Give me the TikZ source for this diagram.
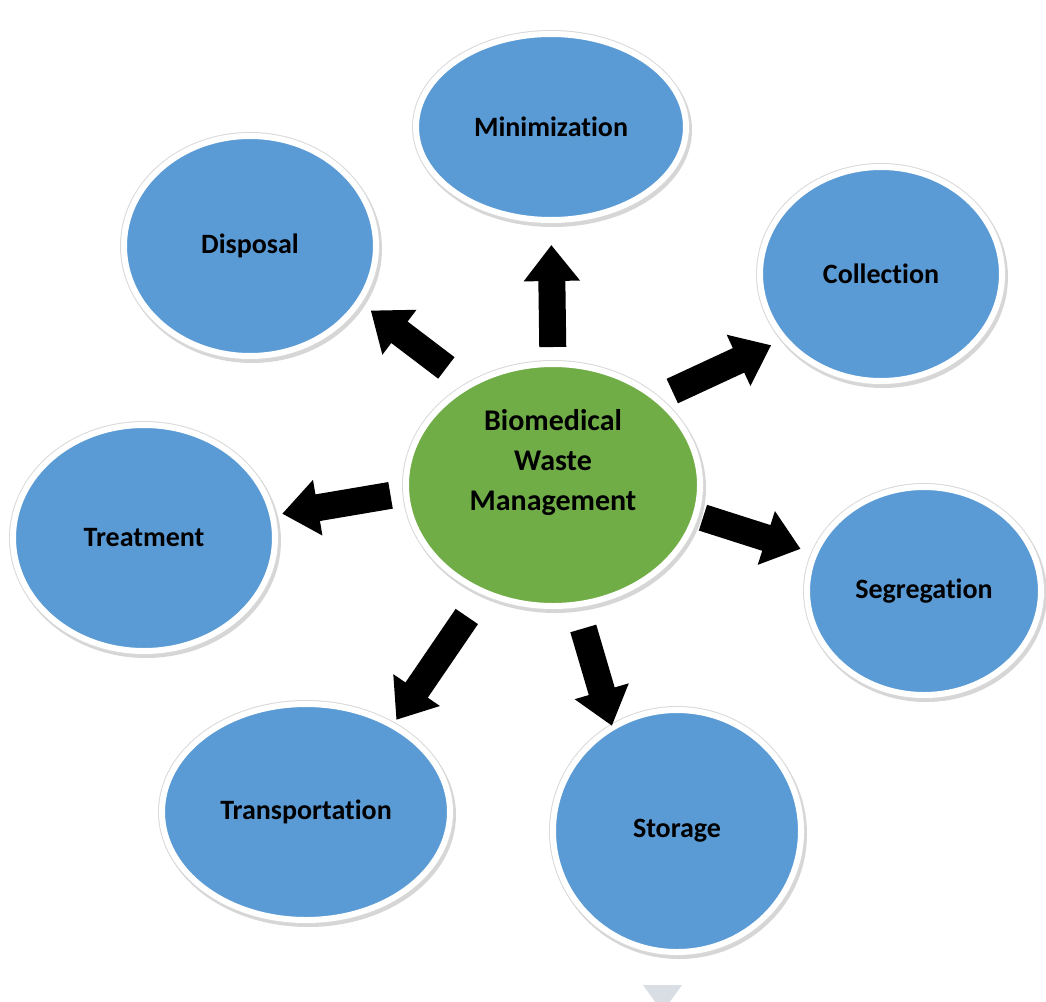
\documentclass[tikz,border=0pt]{standalone}
\usepackage{fontspec}
\setsansfont{Carlito}[Ligatures=NoCommon]
\usetikzlibrary{shapes.geometric, arrows.meta, shadows}
\definecolor{bubbleblue}{HTML}{5B9BD5}
\definecolor{hubgreen}{HTML}{70AD47}
\definecolor{pointergray}{HTML}{D9DDE4}

\begin{document}
\begin{tikzpicture}[x=1pt, y=-1pt,
    bubble/.style={ellipse, fill=bubbleblue, draw=white, line width=6pt,
        inner sep=0pt, outer sep=0pt,
        drop shadow={shadow xshift=2pt, shadow yshift=-3pt, fill=black!40,
            draw=black!40, line width=8pt, opacity=0.4},
        preaction={draw=black!15, line width=8pt},
        font=\sffamily\bfseries\fontsize{28}{34}\selectfont},
    hub/.style={bubble, fill=hubgreen},
    title/.style={align=center, font=\sffamily\bfseries\fontsize{30}{40}\selectfont},
    fat/.style={line width=27pt, -{Triangle[width=54pt, length=36pt]}}]
        \useasboundingbox (0,0) rectangle (1046,1001);
        \clip (0,0) rectangle (1046,1001);
        \node[hub, minimum width=294pt, minimum height=242pt] (hub) at (553,485) {};
        \node[title] (name) at (553,463) {Biomedical\\Waste\\Management};
        \node[bubble, minimum width=270pt, minimum height=186pt] (mini) at (551,127) {Minimization};
        \node[bubble, minimum width=252pt, minimum height=220pt] (disp) at (250,246) {Disposal};
        \node[bubble, minimum width=242pt, minimum height=214pt] (coll) at (881,274) {Collection};
        \node[bubble, minimum width=262pt, minimum height=226pt] (treat) at (144,538) {Treatment};
        \node[bubble, minimum width=234pt, minimum height=208pt] (seg) at (924,591) {Segregation};
        \node[bubble, minimum width=288pt, minimum height=216pt] (transp) at (306,812) {Transportation};
        \node[bubble, minimum width=248pt, minimum height=242pt] (stor) at (677,831) {Storage};
        \draw[fat, shorten <=17pt, shorten >=25pt] (hub.90) -- (mini.270);
        \draw[fat, shorten <=29pt, shorten >=15pt] (hub.130) -- (disp.333);
        \draw[fat, shorten <=18pt, shorten >=15pt] (hub.40) -- (coll.214);
        \draw[fat, shorten <=16pt, shorten >=10pt] (hub.183) -- (treat.10);
        \draw[fat, shorten <=8pt, shorten >=15pt] (hub.348) -- (seg.161);
        \draw[fat, shorten <=30pt, shorten >=7pt] (hub.237) -- (transp.45);
        \draw[fat, shorten <=25pt, shorten >=2pt] (hub.281) -- (stor.122);
        \fill[pointergray] (643,985) -- (682,985) -- (662.5,1012) -- cycle;
    \end{tikzpicture}
\end{document}
